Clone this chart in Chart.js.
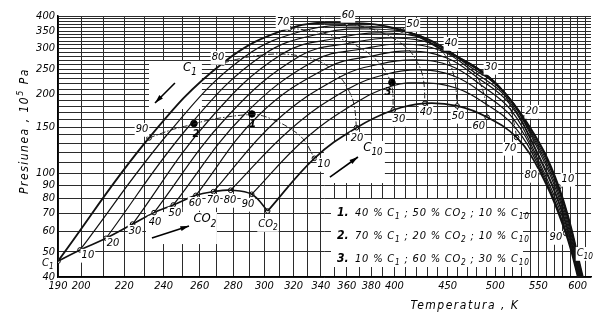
<!DOCTYPE html>
<html>
<head>
<meta charset="utf-8">
<script src="https://cdn.jsdelivr.net/npm/chart.js@4.4.1/dist/chart.umd.min.js"></script>
<style>
  body { margin: 0; background: #fff; }
  canvas { display: block; }
</style>
</head>
<body>
<canvas id="chart" width="605" height="323"></canvas>
<script>
// critical loci of C1 - CO2 - C10, temperature in K, pressure in 10^5 Pa
// every arch: start on the C1-CO2 line, then 10 %, 20 % ... 90 % C10, then past C10
const arch0 = [[190, 46], [232.4, 136.4], [273.7, 264.3], [317, 358.8], [360.1, 376.1], [406.7, 353.5], [445.3, 296.4], [486.5, 242], [532.7, 162.6], [575.6, 88.5], [611, 36]];
const arch10 = [[199.5, 50.8], [244, 146.3], [286.1, 276.2], [328.9, 353.5], [370.6, 366.3], [415.8, 344.3], [453.3, 288.6], [493, 233.6], [536.3, 155.6], [576.9, 85.4], [610.6, 36]];
const arch20 = [[211.3, 56.3], [254.4, 152.9], [299, 283.6], [341.5, 344.3], [380.6, 356.6], [424.2, 335.4], [460.4, 278.7], [498.5, 225.5], [538.7, 148.9], [577.5, 82.5], [609.7, 36]];
const arch30 = [[224.1, 63.8], [265.4, 159.8], [311.9, 286.1], [353, 329.4], [390, 344.3], [431.7, 323.7], [466.5, 269], [504, 215.7], [541, 142.5], [578.2, 78.9], [609, 36]];
const arch40 = [[235, 70.6], [276.1, 164.1], [324.5, 281.1], [363.3, 315.2], [398.7, 329.4], [438.5, 309.8], [471.7, 257.4], [508.5, 206.4], [543.4, 135.2], [578.8, 75.5], [608.4, 36]];
const arch50 = [[245.2, 75.5], [286.7, 167], [336.2, 271.4], [372.3, 299], [406.7, 312.4], [444.3, 293.8], [476.9, 244.2], [511.9, 195.8], [544.6, 128.2], [579.4, 72.3], [607.7, 36]];
const arch60 = [[257.8, 82.2], [296.4, 167], [346, 255.1], [380.6, 281.1], [414, 293.8], [449.3, 276.2], [481.2, 231.6], [515.3, 185.7], [547.1, 121.6], [580.7, 69.1], [607, 36]];
const arch70 = [[268, 84.9], [307.8, 158.4], [354.6, 233.6], [387.4, 261.9], [419.5, 271.4], [453.3, 257.4], [484.4, 217.7], [517.6, 174.6], [548.3, 115.3], [581.4, 66.2], [606.3, 36]];
const arch80 = [[278.4, 86], [318.1, 147.6], [360.9, 210.1], [393.4, 239.8], [424.2, 248.5], [456.3, 235.6], [487.6, 201], [519.9, 162.6], [549.5, 110.4], [582, 63.3], [605.7, 36]];
const arch90 = [[291.7, 83], [327.4, 134], [365.7, 184.1], [397.8, 215.7], [427, 221.6], [458.3, 212], [489.8, 184.1], [522.2, 150.2], [550.7, 105.6], [583.3, 61.1], [605, 36]];
const arch100 = [[302.2, 71.6], [335.1, 114], [367.8, 149.3], [399, 174.6], [427.9, 185.2], [459.6, 180.9], [491.1, 163.7], [524.2, 137], [551.9, 101.3], [584.3, 58.8], [604.3, 36]];
const arches = [arch0, arch10, arch20, arch30, arch40, arch50, arch60, arch70, arch80, arch90, arch100];

// mixtures 1, 2, 3
const mixtures = [[291.8, 168.5], [256.7, 154.9], [397.8, 222.5]];

const xTickLabels = [190, 200, 220, 240, 260, 280, 300, 320, 340, 360, 380, 400, 450, 500, 550, 600];
const yTickLabels = [40, 50, 60, 70, 80, 90, 100, 150, 200, 250, 300, 350, 400];

// text on the plot: text, T, P
const texts = [
  ['10', 203, 48.6], ['20', 214.6, 54], ['30', 225.3, 60], ['40', 235.5, 65], ['50', 246.1, 70.4],
  ['60', 257.3, 76.8], ['70', 267.7, 78.9], ['80', 278, 78.9], ['90', 289.3, 76.2], ['CO_2', 302.4, 63.8],
  ['90', 228.8, 147.6], ['80', 270.7, 278.7], ['70', 312.6, 379.4], ['60', 360.9, 403.6], ['50', 416.7, 372.8],
  ['40', 453.3, 315.2], ['30', 495.2, 255.1], ['20', 542.2, 173], ['10', 587.2, 95],
  ['10', 342.2, 108.4], ['20', 368.2, 136.4], ['30', 404, 161.2], ['40', 428.9, 171.5], ['50', 460.4, 165.6],
  ['60', 482.2, 151.6], ['70', 516.5, 124.9], ['80', 541, 98.4], ['90', 571.8, 56.9], ['C_10', 609.7, 49.4],
  ['C_1', 185.8, 45.3]
];
const mixtureTexts = [['1', 292.4, 154.3], ['2', 257.8, 141.3], ['3', 394.3, 204.6]];
// arrows: from T,P to T,P, label, label T,P
const arrows = [
  [[246.1, 221.6], [235.5, 185.7], 'C_1', [254.4, 252.9]],
  [[233.9, 56.4], [253.9, 62.7], 'CO_2', [263, 66.7]],
  [[346.8, 96.6], [369, 115.3], 'C_10', [381.4, 124.9]]
];
const legendRows = [
  ['1.', '40 % C_1 ; 50 % CO_2 ; 10 % C_10'],
  ['2.', '70 % C_1 ; 20 % CO_2 ; 10 % C_10'],
  ['3.', '10 % C_1 ; 60 % CO_2 ; 30 % C_10']
];

const xGrid = [];
for (let t = 190; t <= 610; t += 10) xGrid.push(t);
const yGrid = [];
for (let p = 40; p <= 400; p += 10) yGrid.push(p);

const family = "'Liberation Sans Narrow', 'DejaVu Sans Condensed', sans-serif";
const pts = arr => arr.map(p => ({x: p[0], y: p[1]}));

function richText(ctx, str, x, y, size, align, halo, weight) {
  const items = str.split(/([_^][0-9]+)/).filter(Boolean).map(p => {
    const k = p[0] === '_' ? 1 : p[0] === '^' ? -1 : 0;
    const t = k ? p.slice(1) : p;
    const s = k ? size * 0.75 : size;
    ctx.font = `italic ${weight || 'normal'} ${s}px ${family}`;
    return {t, s, k, w: ctx.measureText(t).width};
  });
  const total = items.reduce((a, b) => a + b.w, 0);
  let cx = align === 'center' ? x - total / 2 : align === 'right' ? x - total : x;
  if (halo) {
    ctx.fillStyle = '#fff';
    ctx.fillRect(cx - 1, y - size * 0.55, total + 2, size * 1.25);
  }
  ctx.fillStyle = '#000';
  ctx.textBaseline = 'middle';
  ctx.textAlign = 'left';
  items.forEach(it => {
    ctx.font = `italic ${weight || 'normal'} ${it.s}px ${family}`;
    ctx.fillText(it.t, cx, y + it.k * size * 0.38);
    cx += it.w;
  });
}

const datasets = [];
arches.forEach((a, i) => {
  datasets.push({
    data: pts(a), borderColor: '#111', borderWidth: i === 0 ? 1.9 : i === 10 ? 1.7 : 1.2,
    pointRadius: 0, showLine: true, tension: 0.4
  });
});
// C1 - CO2 line
datasets.push({data: pts(arches.map(a => a[0])), borderColor: '#111', borderWidth: 1.6, pointRadius: 0, showLine: true, tension: 0.4});
// constant C10 lines
for (let z = 1; z <= 9; z++) {
  datasets.push({
    data: pts(arches.map(a => a[z])), borderColor: '#222', borderWidth: 1, borderDash: [6, 2, 1.5, 2],
    pointRadius: 0, showLine: true, tension: 0.4
  });
}
// labelled points
const marks = arches.map(a => a[0]).concat(arch0.slice(1, 10), arch100.slice(1, 10));
datasets.push({data: pts(marks), pointRadius: 2.3, pointBackgroundColor: '#fff', pointBorderColor: '#000', pointBorderWidth: 1, showLine: false});
datasets.push({data: pts(mixtures), pointRadius: 3.3, pointBackgroundColor: '#000', pointBorderColor: '#000', showLine: false});

const decor = {
  id: 'decor',
  beforeDatasetsDraw(chart) {
    const {ctx, scales: {x, y}} = chart;
    ctx.save();
    ctx.fillStyle = '#fff';
    ctx.fillRect(331, 199, 192, 68);
    arrows.forEach(a => {
      const xs = [a[0][0], a[1][0], a[3][0]].map(v => x.getPixelForValue(v));
      const ys = [a[0][1], a[1][1], a[3][1]].map(v => y.getPixelForValue(v));
      const l = Math.min(...xs) - 6, t = Math.min(...ys) - 7;
      ctx.fillRect(l, t, Math.max(...xs) + 12 - l, Math.max(...ys) + 6 - t);
    });
    ctx.restore();
  },
  afterDatasetsDraw(chart) {
    const {ctx, scales: {x, y}} = chart;
    ctx.save();
    texts.forEach(t => richText(ctx, t[0], x.getPixelForValue(t[1]), y.getPixelForValue(t[2]), 11, 'center', t[1] > 190));
    mixtureTexts.forEach(t => richText(ctx, t[0], x.getPixelForValue(t[1]), y.getPixelForValue(t[2]), 11, 'center', false, 'bold'));
    arrows.forEach(a => {
      const x0 = x.getPixelForValue(a[0][0]), y0 = y.getPixelForValue(a[0][1]);
      const x1 = x.getPixelForValue(a[1][0]), y1 = y.getPixelForValue(a[1][1]);
      const ang = Math.atan2(y1 - y0, x1 - x0);
      ctx.strokeStyle = '#000';
      ctx.lineWidth = 1.6;
      ctx.beginPath(); ctx.moveTo(x0, y0); ctx.lineTo(x1, y1); ctx.stroke();
      ctx.fillStyle = '#000';
      ctx.beginPath();
      ctx.moveTo(x1, y1);
      ctx.lineTo(x1 - 9 * Math.cos(ang - 0.28), y1 - 9 * Math.sin(ang - 0.28));
      ctx.lineTo(x1 - 9 * Math.cos(ang + 0.28), y1 - 9 * Math.sin(ang + 0.28));
      ctx.fill();
      richText(ctx, a[2], x.getPixelForValue(a[3][0]), y.getPixelForValue(a[3][1]), 13, 'center', false);
    });
    legendRows.forEach((r, i) => {
      richText(ctx, r[0], 337, 213 + i * 23, 12, 'left', false, 'bold');
      ctx.letterSpacing = '0.8px';
      richText(ctx, r[1], 355, 213 + i * 23, 11, 'left', false);
      ctx.letterSpacing = '0px';
    });
    // axis titles
    ctx.letterSpacing = '1.5px';
    richText(ctx, 'Temperatura , K', 465, 306, 12, 'center', false);
    ctx.translate(25, 131);
    ctx.rotate(-Math.PI / 2);
    richText(ctx, 'Presiunea , 10^5 Pa', 0, 0, 12, 'center', false);
    ctx.restore();
  }
};

new Chart(document.getElementById('chart'), {
  type: 'scatter',
  data: {datasets: datasets},
  plugins: [decor],
  options: {
    responsive: false,
    animation: false,
    devicePixelRatio: 1,
    layout: {padding: {left: 0, top: 16, right: 14, bottom: 0}},
    plugins: {legend: {display: false}, tooltip: {enabled: false}},
    scales: {
      x: {
        type: 'logarithmic', min: 190, max: 618,
        afterBuildTicks: s => { s.ticks = xGrid.map(v => ({value: v})); },
        afterFit: s => { s.height = 46; },
        grid: {color: '#2b2b2b', lineWidth: 1, drawTicks: false},
        border: {color: '#000', width: 1.5},
        ticks: {
          autoSkip: false, maxRotation: 0, minRotation: 0, padding: 3, color: '#000',
          font: {family: family, size: 11, style: 'italic'},
          callback: v => xTickLabels.includes(v) ? String(v) : ''
        }
      },
      y: {
        type: 'logarithmic', min: 40, max: 400,
        afterBuildTicks: s => { s.ticks = yGrid.map(v => ({value: v})); },
        afterFit: s => { s.width = 58; },
        grid: {color: '#2b2b2b', lineWidth: 1, drawTicks: false},
        border: {color: '#000', width: 1.5},
        ticks: {
          autoSkip: false, padding: 3, color: '#000',
          font: {family: family, size: 11, style: 'italic'},
          callback: v => yTickLabels.includes(v) ? String(v) : ''
        }
      }
    }
  }
});
</script>
</body>
</html>
